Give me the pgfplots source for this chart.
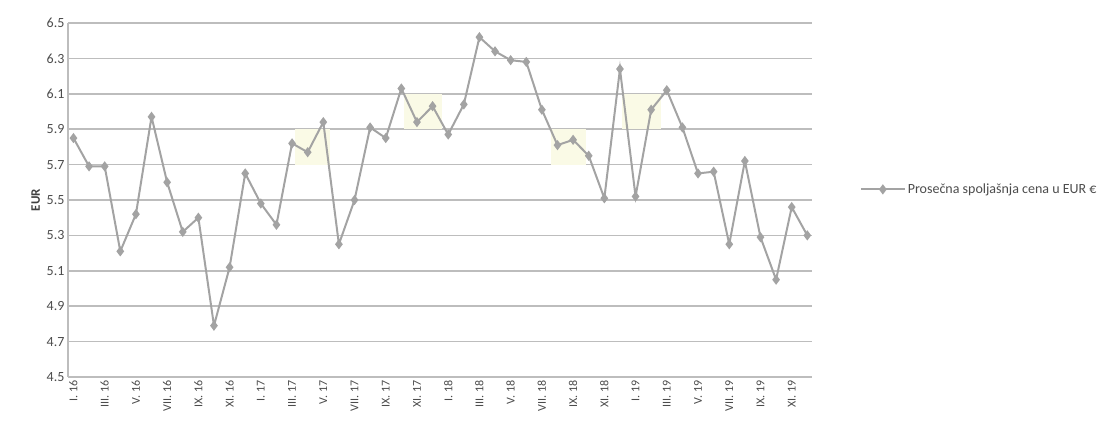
\documentclass[border=0pt]{standalone}
\usepackage{pgfplots}
\pgfplotsset{compat=1.18}
\usepackage{pgfplotstable}
\usepackage{fontspec}
\setmainfont{Carlito}

\definecolor{lineg}{HTML}{A3A3A3}
\definecolor{gridg}{HTML}{BDBDBD}
\definecolor{hl}{HTML}{FAFAE6}

\pgfplotstableread{
x y
0 5.85
1 5.69
2 5.69
3 5.21
4 5.42
5 5.97
6 5.60
7 5.32
8 5.40
9 4.79
10 5.12
11 5.65
12 5.48
13 5.36
14 5.82
15 5.77
16 5.94
17 5.25
18 5.50
19 5.91
20 5.85
21 6.13
22 5.94
23 6.03
24 5.87
25 6.04
26 6.42
27 6.34
28 6.29
29 6.28
30 6.01
31 5.81
32 5.84
33 5.75
34 5.51
35 6.24
36 5.52
37 6.01
38 6.12
39 5.91
40 5.65
41 5.66
42 5.25
43 5.72
44 5.29
45 5.05
46 5.46
47 5.30
}\eurdata

\begin{document}
\begin{tikzpicture}
\useasboundingbox (0,0) rectangle (1101pt,434pt);
\begin{axis}[
  at={(68pt,57pt)}, anchor=south west,
  scale only axis,
  width=744pt, height=354pt,
  xmin=-0.35, xmax=47.3,
  ymin=4.5, ymax=6.5,
  ytick={4.5,4.7,...,6.5},
  /pgf/number format/fixed,
  /pgf/number format/fixed zerofill,
  /pgf/number format/precision=1,
  /pgf/number format/assume math mode=true,
  yticklabel style={font=\fontsize{14}{15}\selectfont, text=black!70},
  xtick={0,2,...,46},
  xticklabels={I. 16,III. 16,V. 16,VII. 16,IX. 16,XI. 16,I. 17,III. 17,V. 17,VII. 17,IX. 17,XI. 17,I. 18,III. 18,V. 18,VII. 18,IX. 18,XI. 18,I. 19,III. 19,V. 19,VII. 19,IX. 19,XI. 19},
  xticklabel style={rotate=90, anchor=east, font=\fontsize{12}{13}\selectfont, text=black!70},
  major tick length=0pt,
  ymajorgrids,
  grid style={gridg, line width=1.5pt},
  axis line style={gridg, line width=1.5pt},
  axis x line*=bottom, axis y line*=left,
  ylabel={\textbf{EUR}},
  ylabel style={font=\fontsize{13}{14}\selectfont, text=black!75},
  legend style={draw=none, fill=none, at={(1.06,0.53)}, anchor=west, font=\fontsize{14}{15}\selectfont, text=black!70},
  legend image code/.code={\draw[mark repeat=2, mark phase=2, #1] plot coordinates {(0pt,0pt) (22pt,0pt) (44pt,0pt)};},
  legend cell align=left,
  clip=false,
]
\fill[hl] (axis cs:14.2,5.7) rectangle (axis cs:16.4,5.9);
\fill[hl] (axis cs:21.2,5.9) rectangle (axis cs:23.6,6.1);
\fill[hl] (axis cs:30.6,5.7) rectangle (axis cs:32.8,5.9);
\fill[hl] (axis cs:35.1,5.9) rectangle (axis cs:37.6,6.1);
\addplot[lineg, line width=2pt, mark=diamond*, mark size=3.5pt, mark options={fill=lineg, draw=lineg}] table[x=x, y=y] {\eurdata};
\addlegendentry{Prosečna spoljašnja cena u EUR €}
\end{axis}
\end{tikzpicture}
\end{document}
